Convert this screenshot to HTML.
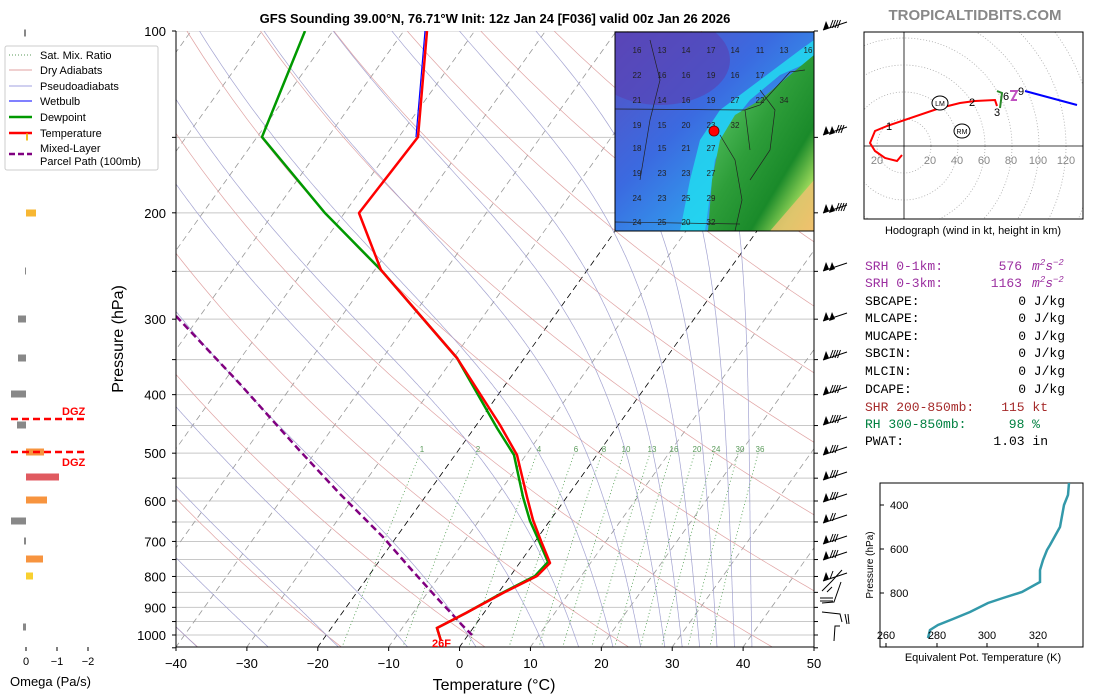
<!DOCTYPE html>
<html><head><meta charset="utf-8"><style>
html,body{margin:0;padding:0;background:#fff;}
svg{display:block;font-family:"Liberation Sans","DejaVu Sans",sans-serif;}
.mono{font-family:"Liberation Mono","DejaVu Sans Mono",monospace;font-size:13px;}
</style></head><body>
<svg id="s" width="1100" height="700" viewBox="0 0 1100 700" xmlns="http://www.w3.org/2000/svg">
<defs>
<clipPath id="pc"><rect x="176" y="31" width="638" height="616"/></clipPath>
<clipPath id="mc"><rect x="615" y="32" width="199" height="199"/></clipPath>
<clipPath id="hc"><rect x="864" y="32" width="219" height="187"/></clipPath>
<linearGradient id="gg" x1="0" y1="0" x2="1" y2="1"><stop offset="0" stop-color="#6fd67a"/><stop offset="0.45" stop-color="#2e9e3a"/><stop offset="0.7" stop-color="#1a8a2a"/><stop offset="0.85" stop-color="#9ad85a"/><stop offset="1" stop-color="#f3c060"/></linearGradient>
<linearGradient id="bg" x1="0" y1="0" x2="1" y2="1"><stop offset="0" stop-color="#5a4fc0"/><stop offset="0.4" stop-color="#3b6ae0"/><stop offset="0.75" stop-color="#2fa8f0"/><stop offset="1" stop-color="#20e8f0"/></linearGradient>
</defs>
<g id="bgLines" clip-path="url(#pc)"></g>
<g id="prof" clip-path="url(#pc)"></g>
<text x="495" y="23" text-anchor="middle" font-weight="bold" font-size="13">GFS Sounding 39.00°N, 76.71°W Init: 12z Jan 24 [F036] valid 00z Jan 26 2026</text>
<text x="975" y="20" text-anchor="middle" font-weight="bold" font-size="15" fill="#888">TROPICALTIDBITS.COM</text>
<g id="axes"></g>
<text x="494" y="690" text-anchor="middle" font-size="16">Temperature (°C)</text>
<text transform="translate(123,339) rotate(-90)" text-anchor="middle" font-size="16">Pressure (hPa)</text>
<text x="432" y="647" font-size="11" font-weight="bold" fill="red">26F</text>
<g font-size="11">
<rect x="5" y="46" width="153" height="124" fill="#fff" stroke="#ccc" rx="2"/>
<line x1="9" y1="55" x2="32" y2="55" stroke="#5a9a5a" stroke-dasharray="1,2"/><text x="40" y="59">Sat. Mix. Ratio</text>
<line x1="9" y1="70" x2="32" y2="70" stroke="#e0a0a0"/><text x="40" y="74">Dry Adiabats</text>
<line x1="9" y1="86" x2="32" y2="86" stroke="#a0a0e0"/><text x="40" y="90">Pseudoadiabats</text>
<line x1="9" y1="101" x2="32" y2="101" stroke="blue"/><text x="40" y="105">Wetbulb</text>
<line x1="9" y1="117" x2="32" y2="117" stroke="#009900" stroke-width="2.5"/><text x="40" y="121">Dewpoint</text>
<line x1="9" y1="133" x2="32" y2="133" stroke="red" stroke-width="2.5"/><text x="40" y="137">Temperature</text>
<line x1="9" y1="154" x2="32" y2="154" stroke="purple" stroke-width="2.5" stroke-dasharray="6,3"/><text x="40" y="152">Mixed-Layer</text><text x="40" y="165">Parcel Path (100mb)</text>
</g>
<g id="omega"></g>
<text x="10" y="686" font-size="13">Omega (Pa/s)</text>
<g clip-path="url(#mc)">
<rect x="615" y="32" width="199" height="199" fill="url(#bg)"/>
<ellipse cx="660" cy="60" rx="70" ry="45" fill="#5a3fb0" opacity="0.6"/>
<polygon points="814,40 814,60 780,75 750,100 730,125 715,160 705,231 680,231 690,180 700,140 720,110 760,80 800,50" fill="#20e0f0" opacity="0.8"/>
<polygon points="814,55 790,75 760,100 735,115 720,140 712,180 708,231 814,231" fill="url(#gg)"/>
<polygon points="814,180 814,231 770,231" fill="#f0c070" opacity="0.8"/>
<g stroke="#222" stroke-width="0.7" fill="none">
<polyline points="615,109 745,110 750,150"/><polyline points="745,110 760,105 790,72 805,70"/><polyline points="615,222 740,224"/><polyline points="650,40 660,80 650,120 640,180"/><polyline points="720,135 735,160 742,200 735,231"/><polyline points="760,90 775,110 770,150 750,180"/>
</g>
<g font-size="8" fill="#222" text-anchor="middle">
<text x="637" y="53">16</text><text x="662" y="53">13</text><text x="686" y="53">14</text><text x="711" y="53">17</text><text x="735" y="53">14</text><text x="760" y="53">11</text><text x="784" y="53">13</text><text x="808" y="53">16</text>
<text x="637" y="78">22</text><text x="662" y="78">16</text><text x="686" y="78">16</text><text x="711" y="78">19</text><text x="735" y="78">16</text><text x="760" y="78">17</text>
<text x="637" y="103">21</text><text x="662" y="103">14</text><text x="686" y="103">16</text><text x="711" y="103">19</text><text x="735" y="103">27</text><text x="760" y="103">22</text><text x="784" y="103">34</text>
<text x="637" y="128">19</text><text x="662" y="128">15</text><text x="686" y="128">20</text><text x="711" y="128">23</text><text x="735" y="128">32</text>
<text x="637" y="151">18</text><text x="662" y="151">15</text><text x="686" y="151">21</text><text x="711" y="151">27</text>
<text x="637" y="176">19</text><text x="662" y="176">23</text><text x="686" y="176">23</text><text x="711" y="176">27</text>
<text x="637" y="201">24</text><text x="662" y="201">23</text><text x="686" y="201">25</text><text x="711" y="201">29</text>
<text x="637" y="225">24</text><text x="662" y="225">25</text><text x="686" y="225">20</text><text x="711" y="225">32</text>
</g>
<circle cx="714" cy="131" r="5" fill="red" stroke="#600" stroke-width="0.8"/>
</g>
<rect x="615" y="32" width="199" height="199" fill="none" stroke="#000" stroke-width="1"/>
<g id="hodo" clip-path="url(#hc)"></g>
<rect x="864" y="32" width="219" height="187" fill="none" stroke="#000"/>
<text x="973" y="234" text-anchor="middle" font-size="11">Hodograph (wind in kt, height in km)</text>
<g class="mono">
<text x="865" y="270" fill="#9b2fa0">SRH 0-1km:</text><text x="1022" y="270" text-anchor="end" fill="#9b2fa0">576</text><text x="1032" y="270" fill="#9b2fa0" font-style="italic">m<tspan dy="-5" font-size="9">2</tspan><tspan dy="5">s</tspan><tspan dy="-5" font-size="9">−2</tspan></text>
<text x="865" y="287" fill="#9b2fa0">SRH 0-3km:</text><text x="1022" y="287" text-anchor="end" fill="#9b2fa0">1163</text><text x="1032" y="287" fill="#9b2fa0" font-style="italic">m<tspan dy="-5" font-size="9">2</tspan><tspan dy="5">s</tspan><tspan dy="-5" font-size="9">−2</tspan></text>
<text x="865" y="305">SBCAPE:</text><text x="1065" y="305" text-anchor="end">0 J/kg</text>
<text x="865" y="322">MLCAPE:</text><text x="1065" y="322" text-anchor="end">0 J/kg</text>
<text x="865" y="340">MUCAPE:</text><text x="1065" y="340" text-anchor="end">0 J/kg</text>
<text x="865" y="357">SBCIN:</text><text x="1065" y="357" text-anchor="end">0 J/kg</text>
<text x="865" y="375">MLCIN:</text><text x="1065" y="375" text-anchor="end">0 J/kg</text>
<text x="865" y="393">DCAPE:</text><text x="1065" y="393" text-anchor="end">0 J/kg</text>
<text x="865" y="411" fill="#a52a2a">SHR 200-850mb:</text><text x="1048" y="411" text-anchor="end" fill="#a52a2a">115 kt</text>
<text x="865" y="428" fill="#008040">RH 300-850mb:</text><text x="1040" y="428" text-anchor="end" fill="#008040">98 %</text>
<text x="865" y="445">PWAT:</text><text x="1048" y="445" text-anchor="end">1.03 in</text>
</g>
<rect x="880" y="483" width="203" height="164" fill="none" stroke="#000"/>
<polyline points="928,638 930,630 938,625 953,619 970,612 988,603 1003,598 1022,592 1040,582 1040,570 1043,560 1047,550 1050,545 1060,527 1064,505 1068,495 1069,483" fill="none" stroke="#3399aa" stroke-width="2.5"/>
<g font-size="11">
<line x1="880" y1="505" x2="884" y2="505" stroke="#000"/><text x="890" y="509">400</text>
<line x1="880" y1="549" x2="884" y2="549" stroke="#000"/><text x="890" y="553">600</text>
<line x1="880" y1="593" x2="884" y2="593" stroke="#000"/><text x="890" y="597">800</text>
<text x="886" y="639" text-anchor="middle">260</text><text x="937" y="639" text-anchor="middle">280</text><text x="987" y="639" text-anchor="middle">300</text><text x="1038" y="639" text-anchor="middle">320</text>
<line x1="886" y1="643" x2="886" y2="647" stroke="#000"/><line x1="937" y1="643" x2="937" y2="647" stroke="#000"/><line x1="987" y1="643" x2="987" y2="647" stroke="#000"/><line x1="1038" y1="643" x2="1038" y2="647" stroke="#000"/>
<text x="983" y="661" text-anchor="middle">Equivalent Pot. Temperature (K)</text>
<text transform="translate(873,565) rotate(-90)" text-anchor="middle" font-size="10">Pressure (hPa)</text>
</g>
<g id="barbs"></g>
<g id="labels" font-size="13"></g>
</svg>
<script>
const NS="http://www.w3.org/2000/svg";
function el(parent,tag,attrs,txt){const e=document.createElementNS(NS,tag);for(const k in attrs)e.setAttribute(k,attrs[k]);if(txt!==undefined)e.textContent=txt;document.getElementById(parent).appendChild(e);return e;}
const Y=p=>31+604*Math.log10(p/100);
const X=(T,p)=>176+(T+40)*7.0889+0.715*(647-Y(p));
function pl(pts,attrs,g){el(g||'bgLines','polyline',Object.assign({points:pts.map(a=>a[0].toFixed(1)+','+a[1].toFixed(1)).join(' '),fill:'none'},attrs));}
for(let p=100;p<=1050;p+=50){el('bgLines','line',{x1:176,x2:814,y1:Y(p),y2:Y(p),stroke:'#c8c8c8','stroke-width':1});}
for(let T=-120;T<=50;T+=10){const c=(T==0||T==-20)?'#000':'#999';el('bgLines','line',{x1:X(T,1050),y1:Y(1050),x2:X(T,100),y2:Y(100),stroke:c,'stroke-width':0.8,'stroke-dasharray':'6,4'});}
for(let t=-60;t<=200;t+=20){const th=t+273.15;const pts=[];for(let p=1050;p>=100;p-=10){const T=th*Math.pow(p/1000,0.2857)-273.15;pts.push([X(T,p),Y(p)]);}pl(pts,{stroke:'#d99',"stroke-width":0.7,opacity:0.9});}
function es(T){return 6.112*Math.exp(17.67*T/(T+243.5));}
function dTdp(T,p){const Tk=T+273.15;const rs=0.622*es(T)/(p-es(T));const Lv=2.501e6,Rd=287.04,Cp=1005.7;return (1/p)*(Rd*Tk+Lv*rs)/(Cp+Lv*Lv*rs*0.622/(Rd*Tk*Tk));}
const m0=[-40,-30,-20,-10,0,10,15,20,24,27.5,30,32.5,35,37.5,40];
m0.forEach(t0=>{let T=t0,p=1000;const up=[];while(p>100){up.push([X(T,p),Y(p)]);const d=-2;T+=dTdp(T,p)*d;p+=d;}up.push([X(T,p),Y(p)]);T=t0;p=1000;const dn=[];while(p<1050){const d=2;T+=dTdp(T,p)*d;p+=d;dn.unshift([X(T,p),Y(p)]);}pl(dn.concat(up),{stroke:'#99c',"stroke-width":0.7,opacity:0.9});});
[1,2,4,6,8,10,13,16,20,24,30,36].forEach(w=>{const pts=[];for(let p=1050;p>=500;p-=10){const e=w*p/(622+w);const l=Math.log(e/6.112);const Td=243.5*l/(17.67-l);pts.push([X(Td,p),Y(p)]);}pl(pts,{stroke:'#4a9a4a',"stroke-width":0.8,"stroke-dasharray":'1,2.5'});});
const mlx={1:422,2:478,4:539,6:576,8:604,10:626,13:652,16:674,20:697,24:716,30:740,36:760};
for(const k in mlx)el('bgLines','text',{x:mlx[k],y:452,'font-size':8,fill:'#5a9a5a','text-anchor':'middle'},k);
const P=a=>a.map(v=>v.join(',')).join(' ');
el('prof','polyline',{points:P([[176,316],[240,384],[300,451],[340,494],[383,537],[410,568],[437,598],[452,614],[462,625],[472,635]]),fill:'none',stroke:'purple','stroke-width':2.5,'stroke-dasharray':'7,4'});
el('prof','polyline',{points:P([[305,31],[262,137],[325,213],[381,270],[457,358],[497,428],[514,455],[523,497],[530,521],[539,541],[548,562],[535,576],[502,593],[466,613],[437,628],[441,641]]),fill:'none',stroke:'#009900','stroke-width':2.5});
el('prof','polyline',{points:P([[425,31],[416,137]]),fill:'none',stroke:'blue','stroke-width':1.2});
el('prof','polyline',{points:P([[427,31],[418,137],[359,213],[381,270],[457,358],[500,425],[517,455],[527,497],[533,520],[541,541],[550,563],[537,576],[503,593],[466,613],[437,628],[441,641]]),fill:'none',stroke:'red','stroke-width':2.5,'stroke-linejoin':'round'});
el('axes','line',{x1:176,y1:31,x2:176,y2:647,stroke:'#000'});el('axes','line',{x1:814,y1:31,x2:814,y2:647,stroke:'#000'});el('axes','line',{x1:176,y1:647,x2:814,y2:647,stroke:'#000'});
for(let p=100;p<=1050;p+=50){el('axes','line',{x1:172,x2:176,y1:Y(p),y2:Y(p),stroke:'#000'});el('axes','line',{x1:814,x2:818,y1:Y(p),y2:Y(p),stroke:'#000'});}
for(let p=100;p<=1000;p+=100)el('labels','text',{x:166,y:Y(p)+5,'text-anchor':'end'},String(p));
for(let T=-40;T<=50;T+=10){const x=176+(T+40)*7.0889;el('axes','line',{x1:x,x2:x,y1:647,y2:651,stroke:'#000'});el('labels','text',{x:x,y:668,'text-anchor':'middle'},(T<0?'\u2212':'')+Math.abs(T));}
const om=[[33,24,26,'#888'],[137,26,28,'#f0c020'],[213,26,36,'#f7b733'],[271,25,26,'#888'],[319,18,26,'#888'],[358,18,26,'#888'],[394,11,26,'#888'],[425,17,26,'#888'],[452,26,44,'#f7943f'],[477,26,59,'#e05a60'],[500,26,47,'#f7943f'],[521,11,26,'#888'],[541,24,26,'#888'],[559,26,43,'#f7943f'],[576,26,33,'#f8d030'],[627,23,26,'#888']];
om.forEach(o=>el('omega','rect',{x:o[1],y:o[0]-3.5,width:o[2]-o[1],height:7,fill:o[3]}));
el('omega','line',{x1:11,x2:87,y1:419,y2:419,stroke:'red','stroke-width':2.5,'stroke-dasharray':'7,4'});
el('omega','line',{x1:11,x2:87,y1:452,y2:452,stroke:'red','stroke-width':2.5,'stroke-dasharray':'7,4'});
el('omega','text',{x:62,y:415,'font-size':11,'font-weight':'bold',fill:'red'},'DGZ');
el('omega','text',{x:62,y:466,'font-size':11,'font-weight':'bold',fill:'red'},'DGZ');
[[26,'0'],[57,'\u22121'],[88,'\u22122']].forEach(a=>{el('omega','line',{x1:a[0],x2:a[0],y1:647,y2:651,stroke:'#000'});el('omega','text',{x:a[0],y:665,'font-size':11,'text-anchor':'middle'},a[1]);});
const ox=904,oy=146,sc=27/20;
for(let r=20;r<=180;r+=20)el('hodo','circle',{cx:ox,cy:oy,r:r*sc,fill:'none',stroke:'#aaa','stroke-dasharray':'1,2','stroke-width':0.8});
el('hodo','line',{x1:864,x2:1083,y1:oy,y2:oy,stroke:'#000','stroke-width':0.8});el('hodo','line',{x1:ox,x2:ox,y1:32,y2:219,stroke:'#000','stroke-width':0.8});
[[877,'20'],[930,'20'],[957,'40'],[984,'60'],[1011,'80'],[1038,'100'],[1066,'120']].forEach(a=>el('hodo','text',{x:a[0],y:164,'font-size':11,fill:'#888','text-anchor':'middle'},a[1]));
el('hodo','polyline',{points:'902,155 897,161 885,158 875,151 870,143 875,131 887,126 940,108 960,103 975,101 995,100 997,106',fill:'none',stroke:'red','stroke-width':2});
el('hodo','polyline',{points:'997,91 1002,93 1000,108',fill:'none',stroke:'#2a8a2a','stroke-width':2});
el('hodo','polyline',{points:'1010,91 1017,91 1012,100 1017,100',fill:'none',stroke:'#c050c0','stroke-width':2});
el('hodo','polyline',{points:'1025,91 1077,105',fill:'none',stroke:'blue','stroke-width':2});
[[889,130,'1'],[972,106,'2'],[997,116,'3'],[1006,100,'6'],[1021,95,'9']].forEach(a=>el('hodo','text',{x:a[0],y:a[1],'font-size':11,'text-anchor':'middle'},a[2]));
el('hodo','ellipse',{cx:940,cy:103,rx:8,ry:7,fill:'#fff',stroke:'#000'});el('hodo','text',{x:940,y:106,'font-size':7,'text-anchor':'middle'},'LM');
el('hodo','ellipse',{cx:962,cy:131,rx:8,ry:7,fill:'#fff',stroke:'#000'});el('hodo','text',{x:962,y:134,'font-size':7,'text-anchor':'middle'},'RM');
const bb=[[27,1,4],[132,2,3],[210,2,4],[268,2,0],[318,2,0],[357,1,4],[392,1,4],[422,1,4],[452,1,3],[477,1,3],[499,1,3],[520,1,2],[541,1,3],[557,1,3],[578,1,1]];
bb.forEach(b=>{const y=b[0];el('barbs','line',{x1:823,y1:y+3,x2:847,y2:y-5,stroke:'#000','stroke-width':1});let x=823;for(let i=0;i<b[1];i++){el('barbs','polygon',{points:`${x},${y+3} ${x+3},${y-6} ${x+6},${y+1}`,fill:'#000'});x+=6;}for(let i=0;i<b[2];i++){el('barbs','line',{x1:x+1,y1:y+1,x2:x+4,y2:y-7,stroke:'#000','stroke-width':1});x+=2.5;}});
el('barbs','polyline',{points:'822,591 832,581 842,570',fill:'none',stroke:'#000'});el('barbs','line',{x1:827,y1:592,x2:832,y2:587,stroke:'#000'});
el('barbs','polyline',{points:'841,582 834,602 822,603',fill:'none',stroke:'#000'});el('barbs','line',{x1:820,y1:598,x2:833,y2:598,stroke:'#000'});el('barbs','line',{x1:820,y1:601,x2:833,y2:601,stroke:'#000'});
el('barbs','polyline',{points:'822,612 840,614 842,622',fill:'none',stroke:'#000'});el('barbs','line',{x1:845,y1:614,x2:847,y2:624,stroke:'#000'});el('barbs','line',{x1:848,y1:614,x2:849,y2:624,stroke:'#000'});
el('barbs','polyline',{points:'834,641 835,626 840,626',fill:'none',stroke:'#000'});
</script>
</body></html>
